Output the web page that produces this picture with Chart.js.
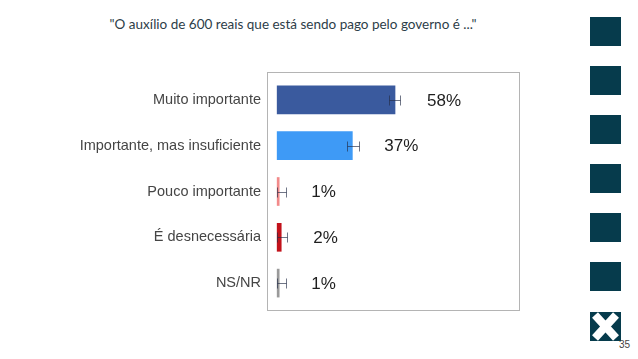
<!DOCTYPE html>
<html>
<head>
<meta charset="utf-8">
<script src="https://cdn.jsdelivr.net/npm/chart.js@4"></script>
<style>
  html, body { margin: 0; padding: 0; background: #fff; }
  body { width: 638px; height: 359px; position: relative; overflow: hidden; }
  #chart { position: absolute; left: 0; top: 0; }
  .title {
    position: absolute; left: 0; width: 586px; top: 16px;
    text-align: center; font-family: Lato, sans-serif; font-size: 13.5px;
    color: #2d3d48;
  }
  .sq { position: absolute; left: 590px; width: 31px; height: 29px; background: #063b4c; }
  .logo { position: absolute; left: 590px; top: 312px; }
  .page {
    position: absolute; left: 619px; top: 339px;
    font-family: "Liberation Sans", Arial, sans-serif; font-size: 10px; color: #444;
  }
</style>
</head>
<body>
<div class="title">"O auxílio de 600 reais que está sendo pago pelo governo é ..."</div>
<div class="sq" style="top:17px"></div>
<div class="sq" style="top:66px"></div>
<div class="sq" style="top:115px"></div>
<div class="sq" style="top:164px"></div>
<div class="sq" style="top:213px"></div>
<div class="sq" style="top:262px"></div>
<svg class="logo" width="31" height="29" viewBox="0 0 31 29">
  <rect width="31" height="29" fill="#063b4c"/>
  <path d="M5 3 L26 26 M26 3 L5 26" stroke="#fff" stroke-width="8"/>
</svg>
<div class="page">35</div>
<canvas id="chart" width="638" height="359"></canvas>
<script>
  // dados
  const categorias = ['Muito importante', 'Importante, mas insuficiente', 'Pouco importante', 'É desnecessária', 'NS/NR'];
  const valores = [58, 37, 1, 2, 1];
  const erroMin = [55.2, 34.5, 0, 0, 0];
  const erroMax = [60.6, 40.4, 4.3, 5, 4.3];
  const cores = ['#3a5a9e', '#3e9af6', '#f28a8a', '#c2121b', '#9a9a9a'];

  // moldura em volta da área do gráfico
  const moldura = {
    id: 'moldura',
    beforeDatasetsDraw(chart) {
      const { ctx, chartArea: a } = chart;
      ctx.save();
      ctx.strokeStyle = '#b4b4b4';
      ctx.lineWidth = 1;
      ctx.strokeRect(a.left + 0.5, a.top - 4.5, a.right - a.left - 1, a.bottom - a.top + 9);
      ctx.restore();
    }
  };

  // barras de erro + rótulos de valor
  const extras = {
    id: 'extras',
    afterDatasetsDraw(chart) {
      const { ctx } = chart;
      const x = chart.scales.x;
      const meta = chart.getDatasetMeta(0);
      ctx.save();
      meta.data.forEach((bar, i) => {
        const y = Math.round(bar.y) + 0.5;
        const x0 = Math.round(x.getPixelForValue(erroMin[i])) + 0.5;
        const x1 = Math.round(x.getPixelForValue(erroMax[i])) + 0.5;
        ctx.strokeStyle = 'rgba(35,45,70,0.65)';
        ctx.lineWidth = 1;
        ctx.beginPath();
        ctx.moveTo(x0, y); ctx.lineTo(x1, y);
        ctx.moveTo(x0, y - 5); ctx.lineTo(x0, y + 5);
        ctx.moveTo(x1, y - 5); ctx.lineTo(x1, y + 5);
        ctx.stroke();

        ctx.fillStyle = '#1e1e1e';
        ctx.font = '17px "Liberation Sans", Arial, sans-serif';
        ctx.textAlign = 'left';
        ctx.textBaseline = 'middle';
        ctx.fillText(valores[i] + '%', bar.x + 32, bar.y + 1);
      });
      ctx.restore();
    }
  };

  new Chart(document.getElementById('chart'), {
    type: 'bar',
    data: {
      labels: categorias,
      datasets: [{
        data: valores,
        backgroundColor: cores,
        barThickness: 28,
        borderWidth: 0,
      }]
    },
    options: {
      indexAxis: 'y',
      responsive: false,
      animation: false,
      layout: { padding: { left: 0, top: 77, right: 118, bottom: 53 } },
      plugins: {
        legend: { display: false },
        tooltip: { enabled: false },
      },
      scales: {
        x: { display: false, min: -5, max: 119.5 },
        y: {
          afterFit: (s) => { s.width = 267; },
          grid: { display: false, drawTicks: false },
          border: { display: false },
          ticks: {
            padding: 6,
            color: '#454545',
            font: { family: '"Liberation Sans", Arial, sans-serif', size: 14.5 },
          },
        },
      },
    },
    plugins: [moldura, extras],
  });
</script>
</body>
</html>
